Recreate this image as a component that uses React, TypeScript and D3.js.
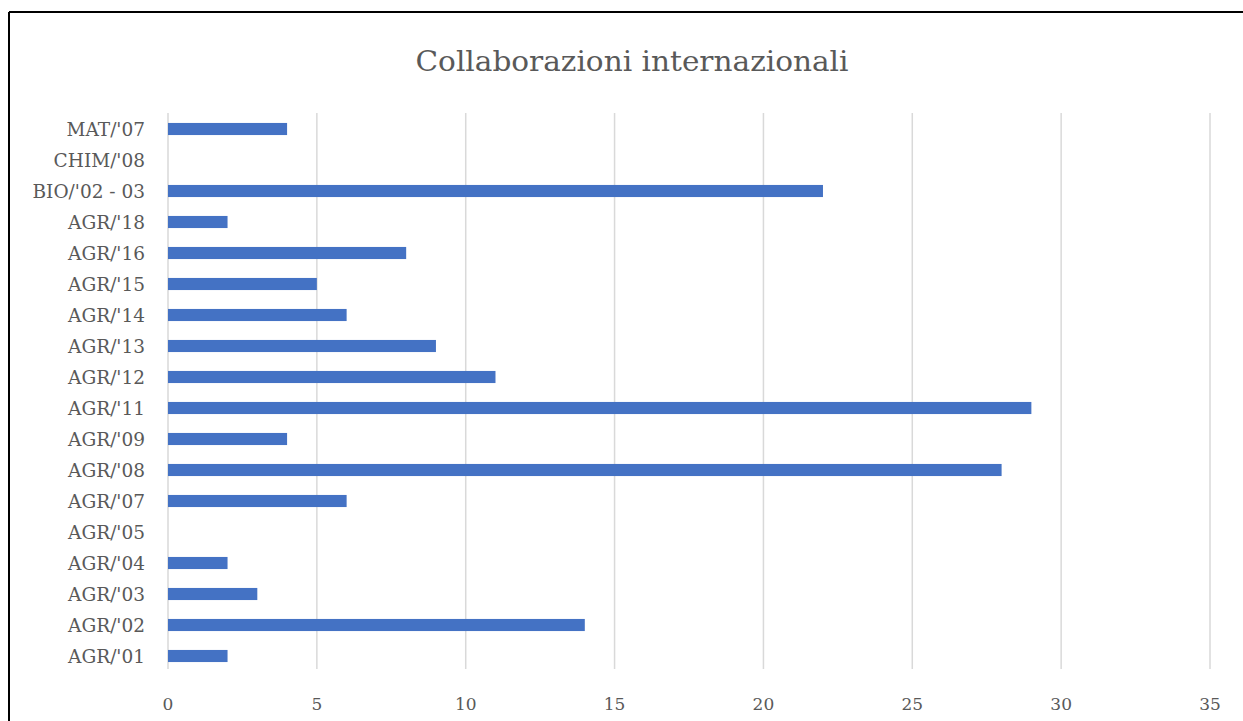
import React from "react";
import * as d3 from "d3";

const categories = ["AGR/'01", "AGR/'02", "AGR/'03", "AGR/'04", "AGR/'05", "AGR/'07", "AGR/'08", "AGR/'09", "AGR/'11", "AGR/'12", "AGR/'13", "AGR/'14", "AGR/'15", "AGR/'16", "AGR/'18", "BIO/'02 - 03", "CHIM/'08", "MAT/'07"];
const values = [2, 14, 3, 2, 0, 6, 28, 4, 29, 11, 9, 6, 5, 8, 2, 22, 0, 4];
const xTicks = [0, 5, 10, 15, 20, 25, 30, 35];
const title = "Collaborazioni internazionali";

export default function App() {
  const W = 1243, H = 721;
  const x = d3.scaleLinear().domain([0, 35]).range([168, 1210]);
  const y = d3.scaleBand<string>().domain([...categories].reverse()).range([113.5, 671.5]).paddingInner(0.61).paddingOuter(0.305);
  const serif = "'DejaVu Serif', serif";
  return (
    <svg width={W} height={H} style={{ position: "absolute", left: 0, top: 0, background: "#fff" }}>
      <rect x={0} y={0} width={W} height={H} fill="#fff" />
      <line x1={9} y1={12} x2={W} y2={12} stroke="#000" strokeWidth={2} />
      <line x1={9} y1={12} x2={9} y2={H} stroke="#000" strokeWidth={2} />
      <text x={632} y={71} textAnchor="middle" fontFamily={serif} fontSize={28} fill="#595959" textLength={433} lengthAdjust="spacingAndGlyphs">{title}</text>
      {xTicks.map(t => (
        <g key={t}>
          <line x1={x(t)} x2={x(t)} y1={113} y2={669} stroke="#d9d9d9" strokeWidth={1.5} />
          <text x={x(t)} y={710} textAnchor="middle" fontFamily={serif} fontSize={17} fill="#595959">{t}</text>
        </g>
      ))}
      {categories.map((c, i) => (
        <g key={c}>
          <rect x={x(0)} y={y(c)!} width={x(values[i]) - x(0)} height={y.bandwidth()} fill="#4472c4" />
          <text x={145} y={y(c)! + y.bandwidth() / 2} dy="0.36em" textAnchor="end" fontFamily={serif} fontSize={18.5} fill="#595959">{c}</text>
        </g>
      ))}
    </svg>
  );
}
